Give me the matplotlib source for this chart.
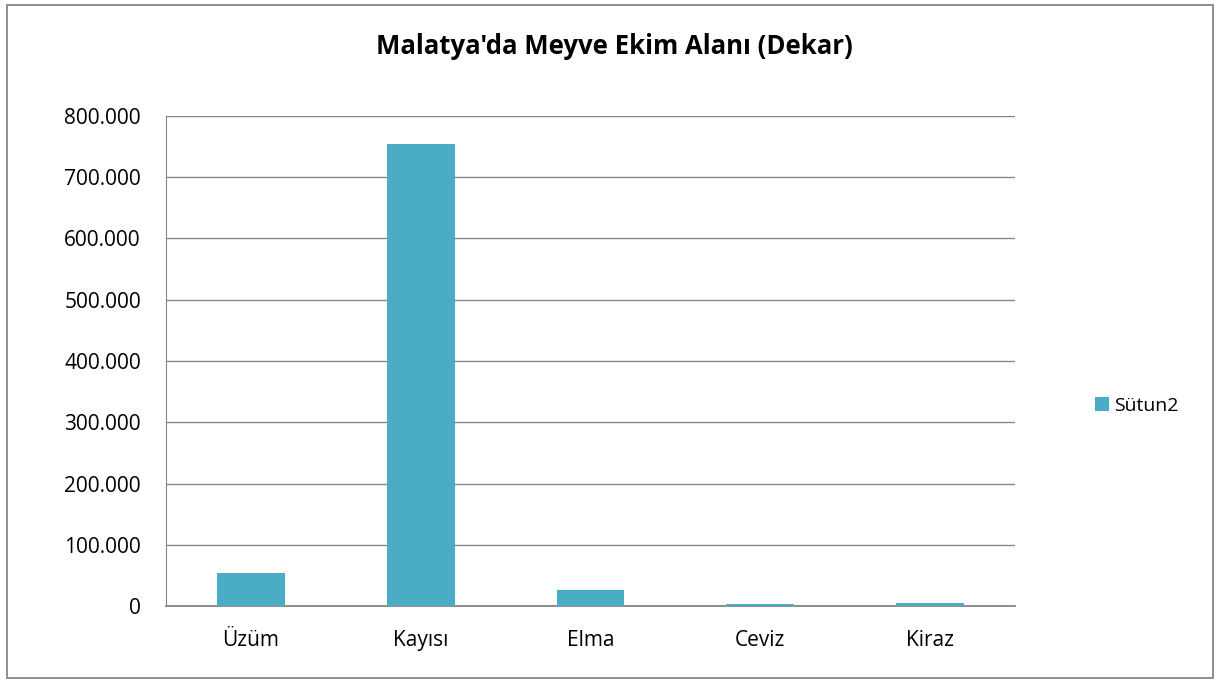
import matplotlib
matplotlib.use("Agg")
import matplotlib.pyplot as plt
from matplotlib.patches import Rectangle
from matplotlib.ticker import FuncFormatter, MultipleLocator

categories = ["Üzüm", "Kayısı", "Elma", "Ceviz", "Kiraz"]
values = [53500, 754000, 26500, 3800, 4800]
series_name = "Sütun2"

plt.rcParams["font.family"] = ["Open Sans", "DejaVu Sans"]

bar_color = "#4BACC6"
grid_color = "#868686"

fig = plt.figure(figsize=(12.21, 6.84), dpi=100)
ax = fig.add_axes([166 / 1221, 1 - 606 / 684, (1015 - 166) / 1221, (606 - 116) / 684])

x = list(range(len(categories)))
ax.bar(x, values, width=0.4, color=bar_color, label=series_name, zorder=3)

ax.set_xlim(-0.5, len(categories) - 0.5)
ax.set_ylim(0, 800000)
ax.yaxis.set_major_locator(MultipleLocator(100000))
ax.yaxis.set_major_formatter(FuncFormatter(lambda v, p: f"{int(v):,}".replace(",", ".")))
ax.set_xticks(x)
ax.set_xticklabels(categories)
ax.tick_params(axis="both", length=0, labelsize=15, colors="black")
ax.tick_params(axis="y", pad=18)
ax.tick_params(axis="x", pad=17)

ax.grid(axis="y", color=grid_color, linewidth=1, zorder=0)
for side in ["top", "right"]:
    ax.spines[side].set_visible(False)
ax.spines["left"].set_color(grid_color)
ax.spines["bottom"].set_color(grid_color)
ax.spines["bottom"].set_linewidth(1.3)

fig.text(0.503, 1 - 47 / 684, "Malatya'da Meyve Ekim Alanı (Dekar)",
         ha="center", va="center", fontsize=18.5, fontweight="bold")

fig.legend(loc="center left", bbox_to_anchor=(1077 / 1221, 1 - 406 / 684),
           frameon=False, fontsize=14, handlelength=0.75, handleheight=0.75,
           handletextpad=0.25)

fig.patches.append(Rectangle((7 / 1221, 1 - 678 / 684), 1206 / 1221, 673 / 684,
                             transform=fig.transFigure, fill=False,
                             edgecolor=grid_color, linewidth=1.3))

fig.savefig("out.png", dpi=100)
